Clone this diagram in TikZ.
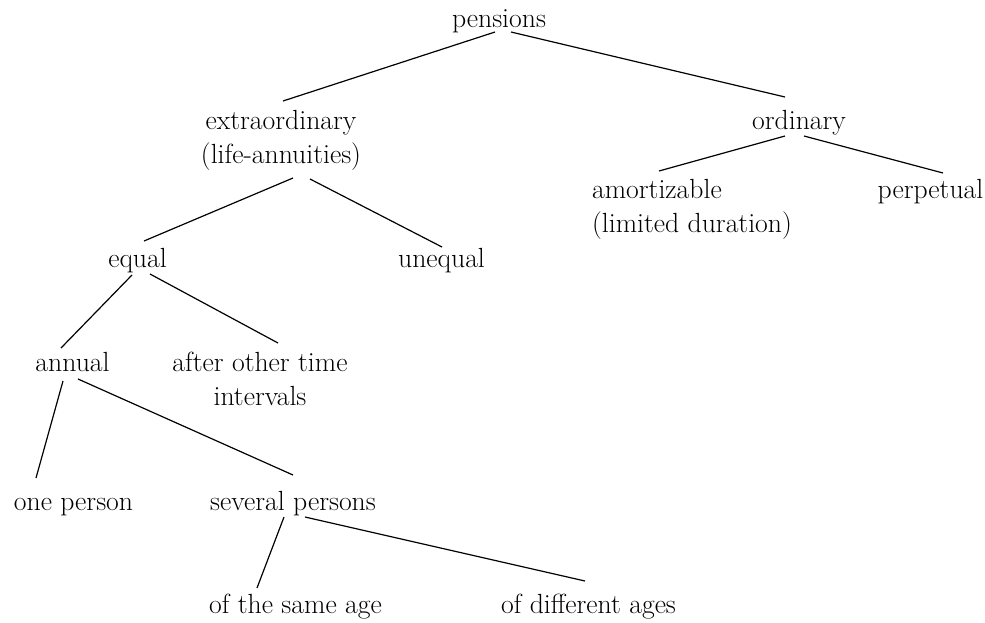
\documentclass[tikz,border=0pt]{standalone}
\usetikzlibrary{calc}
\begin{document}
\begin{tikzpicture}[x=1pt,y=-1pt,
  lbl/.style={anchor=base,inner sep=0pt,font=\fontsize{27.7}{34}\selectfont},
  conn/.style={line width=1.2pt}]
\useasboundingbox (0,0) rectangle (985,622);
\node[lbl] (pen) at (499,27) {pensions};
\node[lbl,align=center] (ext) at (281,163) {extraordinary\\(life-annuities)};
\node[lbl] (ord) at (799,129) {ordinary};
\node[lbl,align=left] (amo) at (692,232) {amortizable\\(limited duration)};
\node[lbl] (per) at (930.5,198) {perpetual};
\node[lbl] (equ) at (137.5,267) {equal};
\node[lbl] (une) at (441.5,267) {unequal};
\node[lbl] (ann) at (72.5,371) {annual};
\node[lbl,align=center] (aft) at (260,405) {after other time\\intervals};
\node[lbl] (one) at (73.5,510) {one person};
\node[lbl] (sev) at (293,510) {several persons};
\node[lbl] (sam) at (295.5,613) {of the same age};
\node[lbl] (dif) at (588.5,613) {of different ages};

\draw[conn] ($(pen.base)+(-4,5)$) -- ($(ext.base)+(2,-62)$);
\draw[conn] ($(pen.base)+(12,5)$) -- ($(ord.base)+(-14,-32)$);
\draw[conn] ($(ord.base)+(-14,7)$) -- ($(amo.base)+(-33,-61)$);
\draw[conn] ($(ord.base)+(5,7)$) -- ($(per.base)+(12.5,-25)$);
\draw[conn] ($(ext.base)+(12,15)$) -- ($(equ.base)+(6.5,-26)$);
\draw[conn] ($(ext.base)+(29,16)$) -- ($(une.base)+(0.5,-20)$);
\draw[conn] ($(equ.base)+(-5.5,8)$) -- ($(ann.base)+(-11.5,-23)$);
\draw[conn] ($(equ.base)+(12.5,7)$) -- ($(aft.base)+(18,-62)$);
\draw[conn] ($(ann.base)+(-9.5,10)$) -- ($(one.base)+(-37.5,-32)$);
\draw[conn] ($(ann.base)+(5.5,8)$) -- ($(sev.base)+(0,-35)$);
\draw[conn] ($(sev.base)+(-9,7)$) -- ($(sam.base)+(-38.5,-25)$);
\draw[conn] ($(sev.base)+(12,7)$) -- ($(dif.base)+(-3.5,-32)$);
\end{tikzpicture}
\end{document}
